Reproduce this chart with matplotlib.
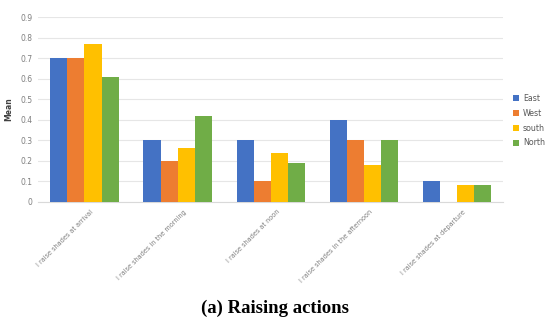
import matplotlib
matplotlib.use("Agg")
import matplotlib.pyplot as plt
import matplotlib.transforms as mtransforms
import numpy as np

categories = ["I raise shades at arrival", "I raise shades in the morning",
              "I raise shades at noon", "I raise shades in the afternoon",
              "I raise shades at departure"]
series_names = ["East", "West", "south", "North"]
east = [0.7, 0.3, 0.3, 0.4, 0.1]
west = [0.7, 0.2, 0.1, 0.3, 0.0]
south = [0.77, 0.26, 0.24, 0.18, 0.08]
north = [0.61, 0.42, 0.19, 0.3, 0.08]
yticks = [0, 0.1, 0.2, 0.3, 0.4, 0.5, 0.6, 0.7, 0.8, 0.9]
ytick_labels = ["0", "0.1", "0.2", "0.3", "0.4", "0.5", "0.6", "0.7", "0.8", "0.9"]
title = "(a) Raising actions"

colors = ["#4472C4", "#ED7D31", "#FFC000", "#70AD47"]

fig = plt.figure(figsize=(5.5, 3.21), dpi=100)
ax = fig.add_axes([0.069, 0.371, 0.846, 0.576])

x = np.arange(len(categories))
w = 0.183
for i, (vals, name) in enumerate(zip([east, west, south, north], series_names)):
    ax.bar(x + (i - 1.5) * w, vals, width=w, color=colors[i], label=name, zorder=3)

ax.set_xlim(-0.5, len(categories) - 0.5)
ax.set_ylim(0, 0.9)
ax.set_yticks(yticks)
ax.set_yticklabels(ytick_labels, fontsize=5.5, color="#7F7F7F")
ax.yaxis.grid(True, color="#E6E6E6", linewidth=0.8, zorder=0)
ax.tick_params(axis="y", length=0, pad=4)
ax.tick_params(axis="x", length=0, pad=2)
for s in ["top", "right", "left"]:
    ax.spines[s].set_visible(False)
ax.spines["bottom"].set_color("#D9D9D9")
ax.spines["bottom"].set_linewidth(0.8)

ax.set_xticks(x)
labels = ax.set_xticklabels(categories, rotation=45, ha="right", va="top",
                            rotation_mode="anchor", fontsize=4.7, color="#7F7F7F")
offset = mtransforms.ScaledTranslation(0.06, -0.04, fig.dpi_scale_trans)
for lab in labels:
    lab.set_transform(lab.get_transform() + offset)

ax.set_ylabel("Mean", fontsize=5.5, fontweight="bold", color="#404040", labelpad=5)

ax.legend(loc="center left", bbox_to_anchor=(1.005, 0.44), frameon=False,
          fontsize=5.7, handlelength=0.8, handleheight=0.8, handletextpad=0.5,
          labelspacing=0.75, labelcolor="#595959")

fig.text(0.5, 1 - 308 / 321, title, ha="center", va="center", fontsize=13.5,
         fontweight="bold", family="Liberation Serif")

fig.savefig("out.png", dpi=100)
